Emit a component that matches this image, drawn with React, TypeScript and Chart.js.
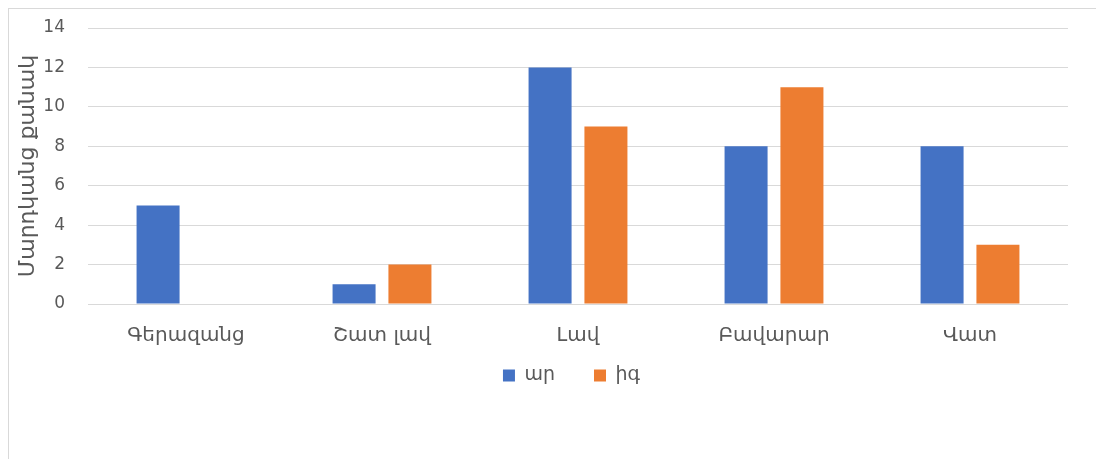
import React, { useEffect, useRef } from "react";
import { Chart, registerables } from "chart.js";

Chart.register(...registerables);

const categories = ["Գերազանց", "Շատ լավ", "Լավ", "Բավարար", "Վատ"];
const seriesNames = ["ար", "իգ"];
const maleValues = [5, 1, 12, 8, 8];
const femaleValues = [0, 2, 9, 11, 3];
const yTitle = "Մարդկանց քանակ";

const FONT = "'DejaVu Sans', 'Noto Sans', sans-serif";
const TEXT = "#595959";

const legendShift = {
  id: "legendShift",
  afterLayout(chart: any) {
    if (chart.legend) {
      chart.legend.top -= 33;
      chart.legend.bottom -= 33;
      chart.legend.left += 33;
      chart.legend.right += 33;
    }
  },
};

export default function App() {
  const ref = useRef<HTMLCanvasElement | null>(null);
  useEffect(() => {
    if (!ref.current) return;
    const chart = new Chart(ref.current, {
      type: "bar",
      data: {
        labels: categories,
        datasets: [
          { label: seriesNames[0], data: maleValues, backgroundColor: "#4472C4" },
          { label: seriesNames[1], data: femaleValues, backgroundColor: "#ED7D31" },
        ],
      },
      plugins: [legendShift],
      options: {
        animation: false,
        responsive: false,
        maintainAspectRatio: false,
        layout: { padding: { top: 19, right: 28, bottom: 0, left: 0 } },
        datasets: { bar: { categoryPercentage: 0.57, barPercentage: 0.77 } },
        plugins: {
          legend: {
            position: "bottom",
            labels: { boxWidth: 12, boxHeight: 12, font: { family: FONT, size: 19 }, color: TEXT, padding: 39 },
          },
          tooltip: { enabled: false },
        },
        scales: {
          x: {
            grid: { display: false },
            border: { display: false },
            ticks: { font: { family: FONT, size: 20 }, color: TEXT, padding: 12, maxRotation: 0 },
          },
          y: {
            min: 0,
            max: 14,
            ticks: { stepSize: 2, font: { family: FONT, size: 17 }, color: TEXT, padding: 23 },
            grid: { color: "#d9d9d9", lineWidth: 1, drawTicks: false },
            border: { display: false },
            title: {
              display: true,
              text: yTitle,
              font: { family: FONT, size: 22 },
              color: TEXT,
              padding: { top: 6, bottom: 5 },
            },
            afterFit: (axis: any) => {
              axis.width = 79;
              axis.paddingTop = 0;
            },
          },
        },
      },
    });
    return () => chart.destroy();
  }, []);
  return (
    <div
      style={{
        position: "absolute",
        left: 8,
        top: 8,
        width: 1088,
        height: 451,
        borderLeft: "1px solid #d9d9d9",
        borderTop: "1px solid #d9d9d9",
        boxSizing: "border-box",
        overflow: "hidden",
      }}
    >
      <canvas ref={ref} width={1087} height={419} style={{ display: "block" }} />
    </div>
  );
}
